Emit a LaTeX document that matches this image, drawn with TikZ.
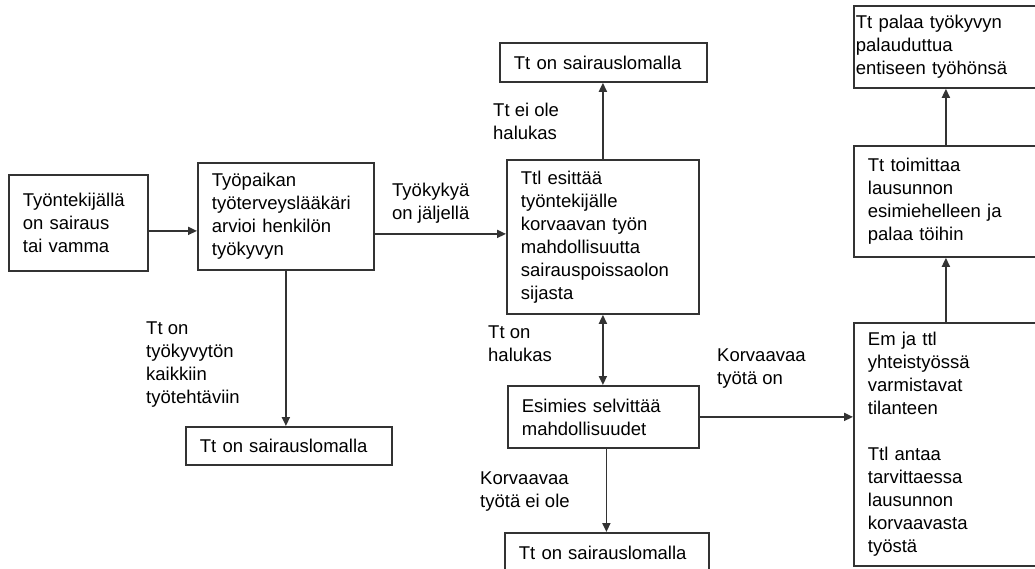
\documentclass[tikz,border=0pt]{standalone}
\usepackage{fontspec}
\setmainfont{Liberation Sans}
\usetikzlibrary{arrows.meta}

\begin{document}
\begin{tikzpicture}[x=1pt,y=-1pt,
	box/.style={draw=black!80,line width=1.8pt,anchor=north west,align=left,inner xsep=14pt,inner ysep=0pt,text=black},
	lbl/.style={anchor=north west,align=left,inner sep=0pt,text=black},
	arr/.style={draw=black!80,line width=1.8pt,-{Triangle[length=9pt,width=8pt]}}]
	\clip (0,0) rectangle (1035,568);
	\fill[white] (0,0) rectangle (1035,568);
	\fontsize{18.5}{23}\selectfont
	% boxes
	\node[box,text width=111pt,minimum height=96pt] (sick) at (8,174) {Työntekijällä\\on sairaus\\tai vamma};
	\node[box,text width=148pt,minimum height=107pt] (doc) at (197,162) {Työpaikan\\työterveyslääkäri\\arvioi henkilön\\työkyvyn};
	\node[box,text width=178pt,minimum height=38pt] (leaveA) at (185,426) {Tt on sairauslomalla};
	\node[box,text width=179pt,minimum height=39pt] (leaveB) at (499,42) {Tt on sairauslomalla};
	\node[box,text width=164pt,minimum height=154pt] (offer) at (506,159) {Ttl esittää\\työntekijälle\\korvaavan työn\\mahdollisuutta\\sairauspoissaolon\\sijasta};
	\node[box,text width=163pt,minimum height=62pt] (boss) at (507,385) {Esimies selvittää\\mahdollisuudet};
	\node[box,text width=176pt,minimum height=39pt] (leaveC) at (504,532) {Tt on sairauslomalla};
	\node[box,inner xsep=2pt,text width=180pt,minimum height=82pt] (back) at (853,5) {Tt palaa työkyvyn\\palauduttua\\entiseen työhönsä};
	\node[box,text width=156pt,minimum height=111pt] (report) at (853,145) {Tt toimittaa\\lausunnon\\esimiehelleen ja\\palaa töihin};
	\node[box,text width=156pt,minimum height=243pt] (joint) at (853,322) {Em ja ttl\\yhteistyössä\\varmistavat\\tilanteen\\[23pt]Ttl antaa\\tarvittaessa\\lausunnon\\korvaavasta\\työstä};
	% labels
	\node[lbl] (lblA) at (392,183) {Työkykyä\\on jäljellä};
	\node[lbl] (lblB) at (146,322) {Tt on\\työkyvytön\\kaikkiin\\työtehtäviin};
	\node[lbl] (lblC) at (493,103) {Tt ei ole\\halukas};
	\node[lbl] (lblD) at (488,326) {Tt on\\halukas};
	\node[lbl] (lblE) at (717,349) {Korvaavaa\\työtä on};
	\node[lbl] (lblF) at (480,472) {Korvaavaa\\työtä ei ole};
	% arrows
	\draw[arr] ([yshift=-8pt]sick.east) -- ([yshift=-8pt]sick.east -| doc.west);
	\draw[arr] ([yshift=-17.5pt]doc.east) -- ([yshift=-17.5pt]doc.east -| offer.west);
	\draw[arr] (doc.south) -- (doc.south |- leaveA.north);
	\draw[arr] (offer.north) -- (offer.north |- leaveB.south);
	\draw[arr,{Triangle[length=9pt,width=8pt]}-{Triangle[length=9pt,width=8pt]}] (offer.south) -- (offer.south |- boss.north);
	\draw[arr] ([xshift=3pt]boss.south) -- ([xshift=3pt]boss.south |- leaveC.north);
	\draw[arr] (boss.east) -- (boss.east -| joint.west);
	\draw[arr] (joint.north) -- (report.south);
	\draw[arr] (report.north) -- (back.south);
\end{tikzpicture}
\end{document}
